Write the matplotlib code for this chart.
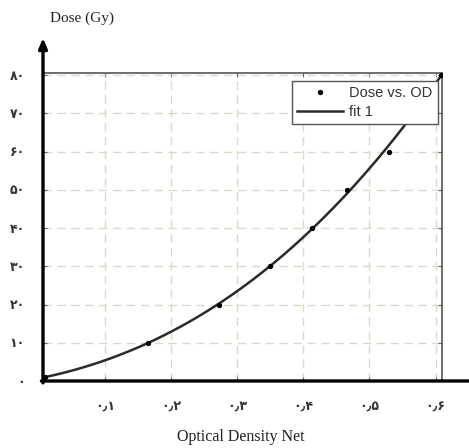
import numpy as np
import matplotlib
matplotlib.use("Agg")
import matplotlib.pyplot as plt

# data
od = [0.0085, 0.165, 0.272, 0.350, 0.413, 0.466, 0.529, 0.565, 0.608]
dose = [1, 10, 20, 30, 40, 50, 60, 70, 80]
x_ticks = [0.1, 0.2, 0.3, 0.4, 0.5, 0.6]
x_ticklabels = ["۰٫۱", "۰٫۲", "۰٫۳", "۰٫۴", "۰٫۵", "۰٫۶"]
y_ticks = [0, 10, 20, 30, 40, 50, 60, 70, 80]
y_ticklabels = ["۰", "۱۰", "۲۰", "۳۰", "۴۰", "۵۰", "۶۰", "۷۰", "۸۰"]

W, H = 469, 448
fig = plt.figure(figsize=(W / 100, H / 100), dpi=100)
ax = fig.add_axes([43 / W, (H - 381) / H, 398.5 / W, (381 - 73.3) / H])

coef = np.polyfit(od, dose, 3)
xf = np.linspace(0.006, 0.609, 200)
ax.plot(xf, np.polyval(coef, xf), color="#2a2a2a", lw=1.8, label="fit 1", zorder=3)
ax.plot(od, dose, "o", color="black", ms=2.8, label="Dose vs. OD", zorder=4)

ax.set_xlim(0.006, 0.609)
ax.set_ylim(0, 80.5)
ax.set_xticks(x_ticks)
ax.set_yticks(y_ticks)
tfont = dict(family=["Liberation Serif", "DejaVu Sans"], size=9, color="#333333",
             weight="bold")
ax.set_xticklabels(x_ticklabels, **tfont)
ax.set_yticklabels(y_ticklabels, **tfont)
ax.tick_params(axis="both", direction="in", length=3, width=0.8, color="#666666",
               top=True, right=True)
ax.tick_params(axis="x", pad=14)
ax.tick_params(axis="y", pad=13)

ax.grid(True, color="#dcd8ca", lw=1.0, ls=(0, (6, 4)))
ax.set_axisbelow(True)

for s in ["top", "right"]:
    ax.spines[s].set_color("#555555")
    ax.spines[s].set_linewidth(1.2)
ax.spines["left"].set_visible(False)
ax.spines["bottom"].set_visible(False)

# thick axes with arrow
ax.annotate("", xy=(0, 1.115), xytext=(0, -0.006), xycoords="axes fraction",
            arrowprops=dict(arrowstyle="-|>,head_length=0.6,head_width=0.25",
                            lw=2.4, color="black", shrinkA=0, shrinkB=0),
            annotation_clip=False)
ax.annotate("", xy=(1.08, 0), xytext=(-0.004, 0), xycoords="axes fraction",
            arrowprops=dict(arrowstyle="-", lw=2.4, color="black",
                            shrinkA=0, shrinkB=0),
            annotation_clip=False)

handles, labels = ax.get_legend_handles_labels()
leg = ax.legend(handles[::-1], labels[::-1], loc="upper right",
                bbox_to_anchor=(0.99, 0.975), fancybox=False, framealpha=1,
                edgecolor="#555555", borderpad=0.35, handlelength=3.2,
                handletextpad=0.4, labelspacing=0.35, borderaxespad=0,
                prop=dict(family="Liberation Sans", size=10.5))
leg.get_frame().set_linewidth(1.0)
for t in leg.get_texts():
    t.set_color("#333333")

fig.text(50 / W, 1 - 18 / H, "Dose (Gy)", family="Liberation Serif", size=11,
         ha="left", va="center", color="#222222")
fig.text(241 / W, 1 - 437 / H, "Optical Density Net", family="Liberation Serif",
         size=11.5, ha="center", va="center", color="#222222")

fig.savefig("out.png", dpi=100)
